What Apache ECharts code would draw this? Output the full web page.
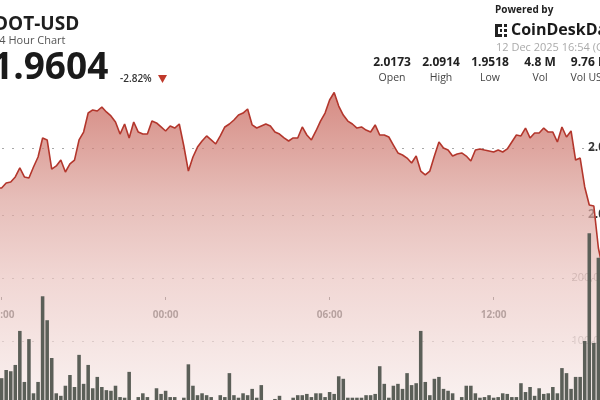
<!DOCTYPE html>
<html><head><meta charset="utf-8">
<script src="https://cdn.jsdelivr.net/npm/echarts@6/dist/echarts.min.js"></script>
<style>
html,body{margin:0;padding:0;background:#fff;width:600px;height:400px;overflow:hidden;position:relative}
#c{width:656px;height:420px;position:absolute;left:-28px;top:0}
</style>
</head><body><div id="c"></div>
<script>
// 10-minute buckets, 17:00 (11 Dec) .. 16:50 (12 Dec)
const times = [];
for (let k = 0; k < 144; k++) {
  const m = (17 * 60 + k * 10) % 1440;
  times.push(String(Math.floor(m / 60)).padStart(2, '0') + ':' + String(m % 60).padStart(2, '0'));
}
const timeTickLabels = ['18:00', '00:00', '06:00', '12:00'];

const price = [
  2.0173, 2.0157, 2.0187, 2.0149, 2.0172, 2.0201,
  2.0201, 2.0239, 2.0246, 2.0284, 2.0351, 2.0284, 2.0276, 2.0358, 2.0433, 2.0575,
  2.0560, 2.0343, 2.0366, 2.0410, 2.0321, 2.0381, 2.0410, 2.0560, 2.0619, 2.0761,
  2.0784, 2.0776, 2.0806, 2.0769, 2.0739, 2.0694, 2.0604, 2.0679, 2.0575, 2.0694,
  2.0619, 2.0604, 2.0604, 2.0701, 2.0687, 2.0657, 2.0627, 2.0664, 2.0649, 2.0679,
  2.0515, 2.0328, 2.0433, 2.0507, 2.0552, 2.0590, 2.0560, 2.0530, 2.0590, 2.0657,
  2.0679, 2.0709, 2.0746, 2.0761, 2.0791, 2.0672, 2.0649, 2.0664, 2.0679, 2.0664,
  2.0619, 2.0604, 2.0575, 2.0552, 2.0575, 2.0575, 2.0657, 2.0597, 2.0560, 2.0627,
  2.0701, 2.0761, 2.0858, 2.0914, 2.0813, 2.0746, 2.0701, 2.0679, 2.0649, 2.0657,
  2.0634, 2.0619, 2.0672, 2.0597, 2.0597, 2.0582, 2.0522, 2.0463, 2.0448, 2.0425,
  2.0388, 2.0440, 2.0328, 2.0299, 2.0328, 2.0440, 2.0545, 2.0500, 2.0485, 2.0440,
  2.0455, 2.0463, 2.0440, 2.0403, 2.0485, 2.0493, 2.0485, 2.0478, 2.0470, 2.0485,
  2.0470, 2.0493, 2.0545, 2.0597, 2.0590, 2.0649, 2.0575, 2.0612, 2.0612, 2.0649,
  2.0619, 2.0619, 2.0545, 2.0657, 2.0582, 2.0627, 2.0410, 2.0425, 2.0209, 2.0075,
  2.0067, 1.9754, 1.9590, 1.9518, 1.9575, 1.9552, 1.9590, 1.9604
];

const volume = [
  30000, 45000, 25000, 60000, 35000, 40000,
  41000, 54000, 52000, 62000, 116000, 35000, 103000, 17000, 35000, 171000,
  133000, 73000, 17000, 13000, 29000, 46000, 27000, 78000, 32000, 62000,
  25000, 43000, 27000, 22000, 21000, 29000, 11000, 10000, 51000, 6000,
  11000, 17000, 11000, 6000, 25000, 16000, 21000, 11000, 11000, 6000,
  10000, 63000, 29000, 14000, 17000, 14000, 11000, 6000, 14000, 11000,
  49000, 14000, 10000, 17000, 14000, 24000, 10000, 30000, 6000, 3000,
  8000, 13000, 6000, 6000, 10000, 14000, 14000, 16000, 11000, 17000,
  17000, 11000, 19000, 16000, 44000, 40000, 10000, 10000, 10000, 10000,
  14000, 14000, 16000, 60000, 32000, 10000, 29000, 32000, 24000, 49000,
  30000, 33000, 116000, 35000, 14000, 40000, 43000, 24000, 21000, 17000,
  6000, 11000, 29000, 29000, 17000, 10000, 11000, 14000, 10000, 11000,
  17000, 16000, 11000, 11000, 33000, 19000, 27000, 13000, 25000, 16000,
  17000, 27000, 17000, 57000, 49000, 24000, 43000, 43000, 100000, 271000,
  97000, 232000, 180000, 150000, 120000, 90000, 110000, 60000
];

const priceTickLabels = ['2.00', '2.05'];
const volumeTickLabels = ['100,000', '200,000'];
const statValues = ['2.0173', '2.0914', '1.9518', '4.8 M', '9.76 M'];
const statLabels = ['Open', 'High', 'Low', 'Vol', 'Vol USD'];

const FONT = '"Open Sans", "Noto Sans", sans-serif';
const P_MIN = 1.85, P_MAX = 2.10, P_INT = 0.05;
const V_MIN = 0, V_MAX = 300000, V_INT = 100000;
const DOT = '#a8a8a8';
const fmtVol = v => String(v).replace(/\B(?=(\d{3})+(?!\d))/g, ',');

const priceSplitColors = [];
for (let v = P_MIN; v <= P_MAX + 1e-9; v += P_INT) priceSplitColors.push(priceTickLabels.includes(v.toFixed(2)) ? DOT : 'rgba(0,0,0,0)');
const volSplitColors = [];
for (let v = V_MIN; v <= V_MAX; v += V_INT) volSplitColors.push(volumeTickLabels.includes(fmtVol(v)) ? DOT : 'rgba(0,0,0,0)');

const showTime = (i, v) => timeTickLabels.includes(v);

const txt = (x, y, text, font, fill, align) => ({
  type: 'text', x, y, silent: true,
  style: { text, font, fill, align: align || 'left', textAlign: align || 'left', verticalAlign: 'middle', textVerticalAlign: 'middle' }
});

const header = [
  txt(-6, 25, 'DOT-USD', 'bold 19px ' + FONT, '#1f1f1f'),
  txt(-7, 41, '24 Hour Chart', '11px ' + FONT, '#555'),
  txt(-8, 68, '1.9604', 'bold 37px ' + FONT, '#1a1a1a'),
  txt(120, 79, '-2.82%', '600 10px ' + FONT, '#333'),
  { type: 'polygon', silent: true, shape: { points: [[158, 75], [167, 75], [162.5, 83]] }, style: { fill: '#c0392b' } },
  txt(495, 10, 'Powered by', 'bold 10px ' + FONT, '#222'),
  { type: 'rect', silent: true, shape: { x: 495, y: 24, width: 3, height: 13 }, style: { fill: '#222' } },
  { type: 'rect', silent: true, shape: { x: 495, y: 24, width: 7, height: 3 }, style: { fill: '#222' } },
  { type: 'rect', silent: true, shape: { x: 495, y: 34, width: 7, height: 3 }, style: { fill: '#222' } },
  { type: 'rect', silent: true, shape: { x: 504, y: 24, width: 3, height: 3 }, style: { fill: '#222' } },
  { type: 'rect', silent: true, shape: { x: 504, y: 29, width: 3, height: 3 }, style: { fill: '#222' } },
  { type: 'rect', silent: true, shape: { x: 504, y: 34, width: 3, height: 3 }, style: { fill: '#222' } },
  { type: 'rect', silent: true, shape: { x: 500, y: 29, width: 2, height: 3 }, style: { fill: '#222' } },
  txt(511, 30, 'CoinDeskData', 'bold 16px ' + FONT, '#1a1a1a'),
  txt(496, 48, '12 Dec 2025 16:54 (GMT)', '11px ' + FONT, '#aaa')
];
const statX = [392, 441, 490, 540, 590];
statValues.forEach((s, i) => {
  header.push(txt(statX[i], 63, s, 'bold 12px ' + FONT, '#222', 'center'));
  header.push(txt(statX[i], 78, statLabels[i], '10.5px ' + FONT, '#444', 'center'));
});

const chart = echarts.init(document.getElementById('c'));
chart.setOption({
  backgroundColor: '#fff',
  animation: false,
  textStyle: { fontFamily: FONT },
  grid: [
    { left: 0, right: 0, top: 81, bottom: 4 },
    { left: 0, right: 0, top: 215, bottom: 16 }
  ],
  xAxis: [
    {
      type: 'category', gridIndex: 0, data: times, boundaryGap: true, offset: -119,
      axisLine: { show: false },
      axisTick: { show: true, alignWithLabel: true, interval: showTime, length: 3, lineStyle: { color: '#555' } },
      axisLabel: { interval: showTime, color: '#333', fontWeight: 'bold', fontSize: 10, margin: 13, fontFamily: FONT },
      splitLine: { show: false }
    },
    {
      type: 'category', gridIndex: 1, data: times, boundaryGap: true, show: false
    }
  ],
  yAxis: [
    {
      type: 'value', gridIndex: 0, position: 'right', min: P_MIN, max: P_MAX, interval: P_INT,
      axisLine: { show: false }, axisTick: { show: false },
      axisLabel: {
        inside: true, margin: 16, color: '#333', fontWeight: 'bold', fontSize: 12, fontFamily: FONT,
        formatter: v => priceTickLabels.includes(v.toFixed(2)) ? v.toFixed(2) : ''
      },
      splitLine: { show: true, lineStyle: { color: priceSplitColors, type: [2, 8], width: 1 } }
    },
    {
      type: 'value', gridIndex: 1, position: 'right', min: V_MIN, max: V_MAX, interval: V_INT,
      axisLine: { show: false }, axisTick: { show: false },
      axisLabel: {
        inside: true, margin: 16, color: '#999', fontSize: 11, fontFamily: FONT,
        formatter: v => volumeTickLabels.includes(fmtVol(v)) ? fmtVol(v) : ''
      },
      splitLine: { show: true, lineStyle: { color: volSplitColors, type: [2, 8], width: 1 } }
    }
  ],
  series: [
    {
      type: 'line', xAxisIndex: 0, yAxisIndex: 0, data: price, symbol: 'none', smooth: false,
      lineStyle: { color: '#b3362c', width: 1.6 },
      areaStyle: {
        origin: 'start',
        color: new echarts.graphic.LinearGradient(0, 0, 0, 1, [
          { offset: 0, color: '#c45a4f' },
          { offset: 0.33, color: '#dca29b' },
          { offset: 0.58, color: '#ebc6c2' },
          { offset: 0.74, color: '#f0d6d3' },
          { offset: 0.92, color: '#f6e8e6' },
          { offset: 1, color: '#f8eeed' }
        ])
      },
      z: 2
    },
    {
      type: 'bar', xAxisIndex: 1, yAxisIndex: 1, data: volume, barWidth: '78%',
      itemStyle: { color: '#5b5f58' }, z: 3
    }
  ],
  graphic: [{ type: 'group', x: 28, y: 0, children: header }]
});
</script></body></html>
